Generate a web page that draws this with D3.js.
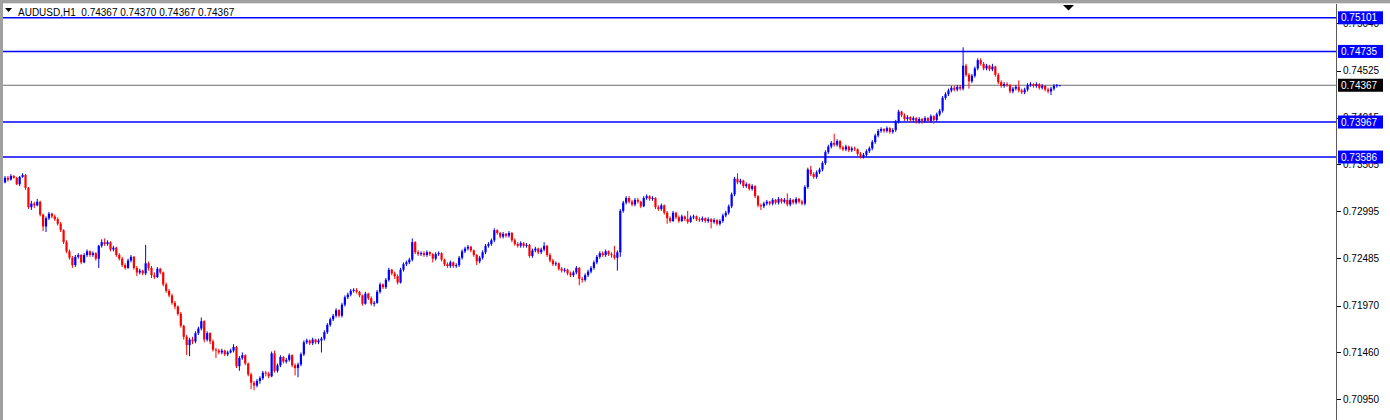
<!DOCTYPE html>
<html><head><meta charset="utf-8">
<script src="https://cdn.jsdelivr.net/npm/d3@7/dist/d3.min.js"></script>
<style>body{margin:0;background:#fff;overflow:hidden;} svg{display:block;}</style>
</head><body>
<svg id="c" width="1390" height="420"></svg>
<script>
// ---- data (prices in pips: value / 10000) ----
const symbol = "AUDUSD,H1";
const lastQuote = ["0.74367", "0.74370", "0.74367", "0.74367"];

const open = [
7331,7336,7334,7338,7336,7329,7337,7339,7325,7304,
7308,7306,7310,7296,7283,7292,7297,7294,7291,7286,
7279,7266,7256,7249,7241,7250,7252,7244,7252,7256,
7252,7254,7248,7262,7266,7264,7266,7258,7260,7252,
7248,7241,7238,7246,7250,7238,7233,7235,7232,7243,
7238,7230,7228,7237,7233,7220,7213,7208,7200,7196,
7188,7175,7163,7154,7160,7158,7167,7172,7180,7160,
7167,7158,7149,7148,7146,7148,7144,7146,7148,7152,
7131,7140,7143,7134,7122,7113,7110,7115,7118,7124,
7123,7120,7145,7126,7132,7141,7136,7138,7143,7132,
7129,7133,7144,7157,7159,7156,7160,7157,7159,7161,
7168,7176,7182,7186,7192,7186,7198,7206,7209,7213,
7214,7212,7208,7199,7210,7205,7199,7200,7212,7220,
7217,7225,7236,7232,7229,7222,7236,7242,7244,7247,
7266,7255,7253,7254,7252,7255,7253,7248,7253,7254,
7247,7242,7240,7244,7240,7241,7249,7256,7259,7261,
7257,7252,7245,7249,7255,7262,7264,7268,7279,7276,
7272,7275,7273,7276,7268,7264,7262,7265,7262,7263,
7251,7257,7259,7255,7258,7262,7252,7246,7242,7243,
7237,7235,7236,7232,7230,7233,7238,7226,7225,7230,
7234,7238,7244,7250,7254,7252,7256,7253,7252,7249,
7255,7300,7309,7314,7310,7307,7312,7310,7305,7314,
7316,7313,7314,7304,7302,7306,7298,7292,7289,7298,
7293,7289,7294,7291,7288,7293,7294,7291,7290,7292,
7289,7291,7288,7290,7286,7289,7295,7298,7305,7318,
7335,7331,7333,7327,7329,7324,7327,7316,7306,7305,
7308,7310,7308,7312,7309,7313,7310,7312,7307,7312,
7309,7313,7310,7308,7326,7345,7340,7337,7342,7345,
7352,7364,7370,7374,7372,7376,7369,7367,7370,7366,
7368,7367,7362,7359,7361,7365,7368,7375,7382,7387,
7389,7387,7390,7386,7388,7397,7408,7404,7400,7402,
7399,7401,7397,7400,7398,7401,7398,7403,7399,7405,
7409,7423,7427,7431,7434,7432,7435,7433,7458,7448,
7441,7447,7455,7464,7460,7455,7458,7454,7457,7448,
7440,7436,7438,7437,7430,7433,7435,7431,7429,7432,
7437,7438,7436,7438,7434,7436,7432,7430,7433,7436,
7436.7];

const high = [
7338,7338,7340,7339,7337,7338,7341,7340,7326,7311,
7310,7313,7311,7297,7294,7299,7298,7296,7293,7288,
7280,7268,7258,7251,7252,7254,7253,7254,7258,7257,
7256,7255,7263,7269,7270,7268,7267,7262,7261,7254,
7250,7243,7248,7252,7251,7240,7237,7236,7263,7245,
7240,7233,7239,7238,7234,7222,7215,7210,7202,7197,
7190,7176,7165,7162,7163,7169,7174,7184,7181,7169,
7168,7160,7151,7150,7150,7149,7148,7150,7155,7153,
7142,7146,7144,7135,7124,7115,7117,7120,7126,7126,
7125,7147,7148,7134,7143,7142,7140,7145,7144,7134,
7135,7146,7159,7161,7160,7162,7161,7161,7163,7170,
7178,7184,7188,7194,7193,7200,7208,7211,7215,7216,
7216,7213,7209,7212,7211,7207,7202,7214,7222,7221,
7227,7238,7237,7234,7231,7238,7244,7246,7249,7270,
7267,7257,7256,7256,7257,7256,7254,7255,7256,7255,
7248,7244,7246,7245,7243,7251,7258,7261,7263,7262,
7258,7253,7251,7257,7264,7266,7270,7281,7280,7277,
7277,7276,7278,7277,7270,7266,7267,7266,7265,7264,
7259,7261,7260,7260,7266,7263,7254,7248,7245,7244,
7239,7238,7237,7234,7235,7240,7239,7228,7232,7236,
7240,7246,7252,7256,7256,7258,7257,7255,7262,7257,
7302,7311,7316,7316,7312,7314,7314,7311,7316,7318,
7317,7316,7315,7306,7308,7307,7300,7294,7300,7299,
7295,7296,7295,7300,7295,7296,7295,7293,7294,7293,
7293,7292,7292,7291,7291,7297,7300,7307,7320,7337,
7341,7335,7334,7331,7330,7329,7328,7317,7308,7310,
7312,7311,7314,7313,7315,7314,7314,7319,7314,7313,
7315,7314,7312,7328,7347,7349,7342,7344,7347,7354,
7366,7372,7376,7384,7378,7377,7371,7372,7371,7370,
7370,7368,7364,7363,7367,7370,7377,7384,7389,7391,
7390,7392,7391,7390,7399,7410,7409,7406,7404,7403,
7403,7402,7402,7401,7403,7402,7405,7404,7407,7411,
7425,7429,7433,7436,7436,7437,7437,7478,7460,7450,
7449,7457,7466,7466,7462,7460,7459,7460,7458,7450,
7442,7440,7440,7438,7435,7437,7442,7433,7434,7439,
7440,7439,7440,7439,7438,7437,7434,7435,7438,7438,
7437];

const low = [
7330,7332,7333,7335,7328,7327,7336,7323,7302,7301,
7303,7305,7294,7278,7277,7290,7292,7289,7284,7277,
7264,7254,7247,7238,7239,7248,7242,7243,7250,7250,
7250,7246,7238,7260,7262,7262,7256,7256,7250,7246,
7239,7236,7237,7244,7236,7229,7231,7230,7230,7235,
7227,7226,7227,7231,7218,7211,7206,7198,7193,7186,
7173,7160,7143,7142,7155,7156,7165,7170,7157,7158,
7155,7147,7140,7144,7144,7142,7142,7145,7146,7129,
7126,7138,7132,7120,7106,7105,7108,7112,7116,7120,
7118,7119,7124,7124,7130,7134,7134,7136,7130,7121,
7119,7131,7142,7155,7154,7154,7155,7155,7146,7159,
7166,7174,7180,7184,7184,7184,7196,7204,7207,7211,
7210,7206,7197,7198,7203,7197,7196,7199,7210,7215,
7215,7223,7230,7226,7220,7221,7234,7240,7242,7245,
7253,7251,7251,7250,7250,7251,7244,7246,7251,7245,
7240,7238,7238,7238,7238,7239,7247,7254,7257,7255,
7250,7241,7243,7247,7253,7260,7262,7266,7274,7270,
7270,7271,7271,7266,7262,7260,7260,7260,7260,7249,
7249,7255,7253,7253,7256,7250,7244,7240,7240,7235,
7233,7233,7230,7228,7228,7231,7219,7222,7223,7228,
7232,7236,7242,7248,7250,7250,7251,7249,7247,7235,
7250,7298,7307,7308,7305,7305,7308,7303,7304,7312,
7311,7311,7302,7300,7300,7296,7286,7287,7288,7291,
7287,7288,7289,7286,7287,7291,7289,7288,7288,7287,
7287,7281,7286,7284,7284,7287,7293,7296,7303,7316,
7329,7329,7325,7325,7322,7322,7314,7304,7301,7303,
7306,7306,7306,7307,7307,7308,7308,7305,7305,7307,
7307,7308,7306,7306,7324,7338,7335,7335,7340,7343,
7350,7362,7368,7370,7370,7367,7365,7365,7364,7364,
7365,7360,7357,7357,7359,7363,7366,7373,7380,7385,
7385,7385,7384,7384,7386,7395,7402,7398,7398,7397,
7397,7395,7395,7395,7396,7396,7396,7395,7397,7403,
7407,7421,7425,7429,7430,7430,7431,7431,7446,7433,
7439,7445,7453,7458,7453,7453,7452,7452,7446,7438,
7434,7434,7435,7428,7428,7431,7429,7427,7427,7430,
7435,7434,7434,7432,7432,7430,7428,7426,7431,7434,
7436.7];

const close = [
7336,7334,7338,7336,7329,7337,7339,7325,7304,7308,
7306,7310,7296,7283,7292,7297,7294,7291,7286,7279,
7266,7256,7249,7241,7250,7252,7244,7252,7256,7252,
7254,7248,7262,7266,7264,7266,7258,7260,7252,7248,
7241,7238,7246,7250,7238,7233,7235,7232,7243,7238,
7230,7228,7237,7233,7220,7213,7208,7200,7196,7188,
7175,7163,7154,7160,7158,7167,7172,7180,7160,7167,
7158,7149,7148,7146,7148,7144,7146,7148,7152,7131,
7140,7143,7134,7122,7113,7110,7115,7118,7124,7123,
7120,7145,7126,7132,7141,7136,7138,7143,7132,7129,
7133,7144,7157,7159,7156,7160,7157,7159,7161,7168,
7176,7182,7186,7192,7186,7198,7206,7209,7213,7214,
7212,7208,7199,7210,7205,7199,7200,7212,7220,7217,
7225,7236,7232,7229,7222,7236,7242,7244,7247,7266,
7255,7253,7254,7252,7255,7253,7248,7253,7254,7247,
7242,7240,7244,7240,7241,7249,7256,7259,7261,7257,
7252,7245,7249,7255,7262,7264,7268,7279,7276,7272,
7275,7273,7276,7268,7264,7262,7265,7262,7263,7251,
7257,7259,7255,7258,7262,7252,7246,7242,7243,7237,
7235,7236,7232,7230,7233,7238,7226,7225,7230,7234,
7238,7244,7250,7254,7252,7256,7253,7252,7249,7255,
7300,7309,7314,7310,7307,7312,7310,7305,7314,7316,
7313,7314,7304,7302,7306,7298,7292,7289,7298,7293,
7289,7294,7291,7288,7293,7294,7291,7290,7292,7289,
7291,7288,7290,7286,7289,7295,7298,7305,7318,7335,
7331,7333,7327,7329,7324,7327,7316,7306,7305,7308,
7310,7308,7312,7309,7313,7310,7312,7307,7312,7309,
7313,7310,7308,7326,7345,7340,7337,7342,7345,7352,
7364,7370,7374,7372,7376,7369,7367,7370,7366,7368,
7367,7362,7359,7361,7365,7368,7375,7382,7387,7389,
7387,7390,7386,7388,7397,7408,7404,7400,7402,7399,
7401,7397,7400,7398,7401,7398,7403,7399,7405,7409,
7423,7427,7431,7434,7432,7435,7433,7458,7448,7441,
7447,7455,7464,7460,7455,7458,7454,7457,7448,7440,
7436,7438,7437,7430,7433,7435,7431,7429,7432,7437,
7438,7436,7438,7434,7436,7432,7430,7433,7436,7437,
7436.7];

const levelLines = [0.75101, 0.74735, 0.73967, 0.73586];
const bidLine = 0.74367;
const priceTicks = ["0.75040","0.74525","0.74015","0.73505","0.72995","0.72485","0.71970","0.71460","0.70950"];

// ---- drawing ----
const W = 1390, H = 420;
const plotL = 3, plotR = 1336, plotT = 4, plotB = 420;
const svg = d3.select("#c");
const font = "'Liberation Sans', Arial, sans-serif";

const y = d3.scaleLinear().domain([0.70725, 0.75251]).range([420, 4]);
const x = d3.scaleLinear().domain([0, close.length - 1]).range([5, 1059.8]);
const bars = close.map((c, i) => ({i, o: open[i] / 1e4, h: high[i] / 1e4, l: low[i] / 1e4, c: c / 1e4}));

svg.append("rect").attr("width", W).attr("height", H).attr("fill", "#fff");

// frame
svg.append("rect").attr("x", 0).attr("y", 0).attr("width", W).attr("height", 3).attr("fill", "#a0a0a0");
svg.append("rect").attr("x", 0).attr("y", 0).attr("width", 3).attr("height", H).attr("fill", "#a0a0a0");
svg.append("line").attr("x1", 3).attr("x2", W).attr("y1", 3.5).attr("y2", 3.5).attr("stroke", "#e0e0e0");

const clip = svg.append("defs").append("clipPath").attr("id", "pc");
clip.append("rect").attr("x", plotL).attr("y", plotT).attr("width", plotR - plotL).attr("height", plotB - plotT);
const plot = svg.append("g").attr("clip-path", "url(#pc)");

// horizontal level lines
plot.selectAll("line.lvl").data(levelLines).join("line")
  .attr("class", "lvl")
  .attr("x1", plotL).attr("x2", plotR)
  .attr("y1", d => y(d)).attr("y2", d => y(d))
  .attr("stroke", "#0000ff").attr("stroke-width", 1.6);

plot.append("line").attr("x1", plotL).attr("x2", plotR)
  .attr("y1", y(bidLine)).attr("y2", y(bidLine))
  .attr("stroke", "#6e6e6e").attr("stroke-width", 1);

// candles
const col = d => d.c >= d.o ? "#0000ff" : "#ff0000";
const cg = plot.append("g");
cg.selectAll("line.wick").data(bars).join("line")
  .attr("class", "wick")
  .attr("x1", d => x(d.i)).attr("x2", d => x(d.i))
  .attr("y1", d => y(d.h)).attr("y2", d => y(d.l))
  .attr("stroke", col).attr("stroke-width", 1);
cg.selectAll("rect.body").data(bars).join("rect")
  .attr("class", "body")
  .attr("x", d => x(d.i) - 1.1).attr("width", 2.2)
  .attr("y", d => y(Math.max(d.o, d.c)))
  .attr("height", d => Math.max(1, Math.abs(y(d.o) - y(d.c))))
  .attr("fill", col);

// right axis
svg.append("line").attr("x1", plotR + 0.5).attr("x2", plotR + 0.5).attr("y1", plotT).attr("y2", H)
  .attr("stroke", "#5a5a5a").attr("stroke-width", 1);

const tg = svg.append("g");
tg.selectAll("line").data(priceTicks).join("line")
  .attr("x1", plotR + 1).attr("x2", plotR + 5)
  .attr("y1", d => Math.round(y(+d)) + 0.5).attr("y2", d => Math.round(y(+d)) + 0.5)
  .attr("stroke", "#000");
tg.selectAll("text").data(priceTicks).join("text")
  .attr("x", plotR + 7).attr("y", d => y(+d) + 3.6)
  .attr("font-family", font).attr("font-size", 10).attr("fill", "#000")
  .text(d => d);

// level labels
const lg = svg.append("g");
const allLabels = levelLines.map(v => ({v, bg: "#0000ff"})).concat([{v: bidLine, bg: "#000000"}]);
lg.selectAll("rect").data(allLabels).join("rect")
  .attr("x", plotR + 2).attr("width", 45)
  .attr("y", d => y(d.v) - 6.5).attr("height", 13)
  .attr("fill", d => d.bg);
lg.selectAll("text").data(allLabels).join("text")
  .attr("x", plotR + 5).attr("y", d => y(d.v) + 3.6)
  .attr("font-family", font).attr("font-size", 10).attr("fill", "#fff")
  .text(d => d.v.toFixed(5));

// title
svg.append("path").attr("d", "M5,8 L12,8 L8.5,12 Z").attr("fill", "#000");
svg.append("text").attr("x", 18).attr("y", 15.5)
  .attr("font-family", font).attr("font-size", 10).attr("fill", "#000")
  .attr("xml:space", "preserve")
  .text(symbol + "  " + lastQuote.join(" "));

// chart shift marker
svg.append("path").attr("d", "M1063,5 L1074,5 L1068.5,10.5 Z").attr("fill", "#000");
</script>
</body></html>
